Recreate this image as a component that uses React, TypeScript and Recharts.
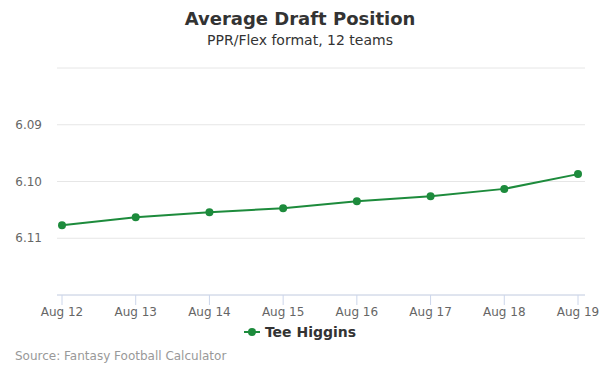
import React from 'react';
import { LineChart, Line, XAxis, YAxis, CartesianGrid } from 'recharts';

const dates = ['Aug 12', 'Aug 13', 'Aug 14', 'Aug 15', 'Aug 16', 'Aug 17', 'Aug 18', 'Aug 19'];
const adp = [6.1077, 6.1063, 6.1054, 6.1047, 6.1035, 6.1026, 6.1013, 6.0987];
const yTicks = [6.08, 6.09, 6.1, 6.11, 6.12];
const yLabels = ['', '6.09', '6.10', '6.11', ''];

const data = dates.map((d, i) => ({ date: d, adp: adp[i] }));

const GREEN = '#1d8b3c';
const FONT = '"DejaVu Sans", "Lucida Grande", Arial, sans-serif';

const YTick = (props: any) => {
  const { x, y, payload } = props;
  const idx = yTicks.indexOf(payload.value);
  const label = idx >= 0 ? yLabels[idx] : '';
  if (!label) return null;
  return (
    <text x={x} y={y} dy={4} textAnchor="end" fontSize={12} fill="#666" fontFamily={FONT}>
      {label}
    </text>
  );
};

const XTick = (props: any) => {
  const { x, y, payload } = props;
  return (
    <text x={x} y={y} dy={9} textAnchor="middle" fontSize={12} fill="#666" fontFamily={FONT}>
      {payload.value}
    </text>
  );
};

const App: React.FC = () => {
  return (
    <div style={{ position: 'absolute', left: 0, top: 0, width: 600, height: 375, background: '#fff', fontFamily: FONT }}>
      <div style={{ position: 'absolute', top: 8, width: 600, textAlign: 'center', fontSize: 18, fontWeight: 'bold', color: '#333' }}>
        Average Draft Position
      </div>
      <div style={{ position: 'absolute', top: 32, width: 600, textAlign: 'center', fontSize: 14, color: '#333' }}>
        PPR/Flex format, 12 teams
      </div>
      <LineChart width={600} height={375} data={data} margin={{ top: 68, right: 15, bottom: 50, left: 0 }}>
        <CartesianGrid vertical={false} stroke="#e6e6e6" />
        <XAxis
          dataKey="date"
          stroke="#ccd6eb"
          tickLine={{ stroke: '#ccd6eb' }}
          tickSize={10}
          tick={<XTick />}
          padding={{ left: 5, right: 7 }}
          interval={0}
        />
        <YAxis
          width={57}
          domain={[6.08, 6.12]}
          ticks={yTicks}
          reversed
          axisLine={false}
          tickLine={false}
          tickSize={0}
          tickMargin={15}
          tick={<YTick />}
        />
        <Line
          type="linear"
          dataKey="adp"
          stroke={GREEN}
          strokeWidth={2}
          dot={{ r: 4, fill: GREEN, stroke: GREEN, strokeWidth: 0 }}
          activeDot={false}
          isAnimationActive={false}
        />
      </LineChart>
      <div style={{ position: 'absolute', top: 324, width: 600, display: 'flex', justifyContent: 'center', alignItems: 'center' }}>
        <svg width={16} height={10} style={{ marginRight: 5 }}>
          <line x1={0} y1={5} x2={16} y2={5} stroke={GREEN} strokeWidth={2} />
          <circle cx={8} cy={5} r={4} fill={GREEN} />
        </svg>
        <span style={{ fontSize: 14, fontWeight: 'bold', color: '#333' }}>Tee Higgins</span>
      </div>
      <div style={{ position: 'absolute', left: 15, top: 349, fontSize: 12, color: '#999' }}>
        Source: Fantasy Football Calculator
      </div>
    </div>
  );
};

export default App;
